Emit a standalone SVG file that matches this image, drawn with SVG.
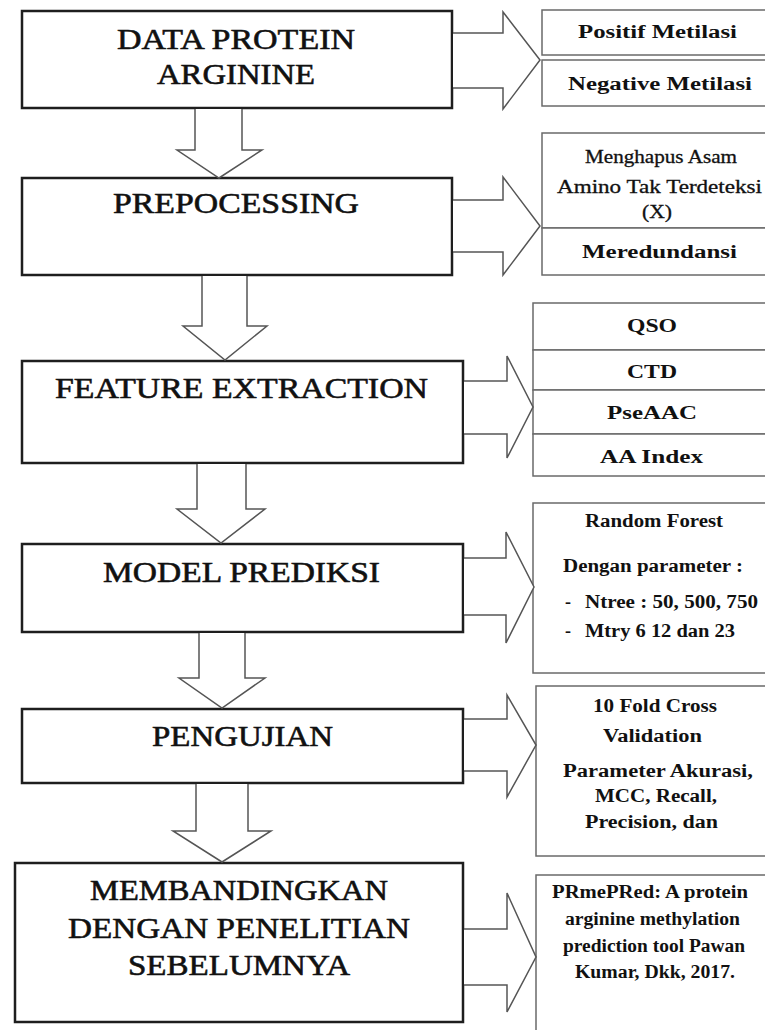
<svg xmlns="http://www.w3.org/2000/svg" width="765" height="1030" viewBox="0 0 765 1030">
<style>
.main{fill:#fff;stroke:#1e1e1e;stroke-width:2.5}
.side{fill:#fff;stroke:#6a6a6a;stroke-width:1.5}
.arr{fill:#fff;stroke:#555;stroke-width:1.5;stroke-linejoin:miter}
.mt{font-family:"Liberation Serif",serif;font-size:30px;fill:#111;stroke:#111;stroke-width:0.6}
.st{font-family:"Liberation Serif",serif;font-size:18px;font-weight:bold;fill:#111}
.sr{font-family:"Liberation Serif",serif;font-size:18px;fill:#111;stroke:#111;stroke-width:0.3}
</style>
<rect width="765" height="1030" fill="#fff"/>
<g id="node-data">
<rect class="main" x="22" y="11" width="430" height="97"/>
<text class="mt" x="117" y="49" textLength="238" lengthAdjust="spacingAndGlyphs">DATA PROTEIN</text>
<text class="mt" x="157" y="84" textLength="158" lengthAdjust="spacingAndGlyphs">ARGININE</text>
</g>
<g id="node-prepro">
<rect class="main" x="22" y="178" width="430" height="97"/>
<text class="mt" x="113" y="213" textLength="246" lengthAdjust="spacingAndGlyphs">PREPOCESSING</text>
</g>
<g id="node-feature">
<rect class="main" x="22" y="361" width="441" height="102"/>
<text class="mt" x="55" y="398" textLength="373" lengthAdjust="spacingAndGlyphs">FEATURE EXTRACTION</text>
</g>
<g id="node-model">
<rect class="main" x="22" y="544" width="441" height="88"/>
<text class="mt" x="103" y="582" textLength="277" lengthAdjust="spacingAndGlyphs">MODEL PREDIKSI</text>
</g>
<g id="node-uji">
<rect class="main" x="22" y="709" width="441" height="74"/>
<text class="mt" x="152" y="746" textLength="181" lengthAdjust="spacingAndGlyphs">PENGUJIAN</text>
</g>
<g id="node-banding">
<rect class="main" x="15" y="863" width="448" height="159"/>
<text class="mt" x="90" y="900" textLength="298" lengthAdjust="spacingAndGlyphs">MEMBANDINGKAN</text>
<text class="mt" x="68" y="938" textLength="342" lengthAdjust="spacingAndGlyphs">DENGAN PENELITIAN</text>
<text class="mt" x="128" y="975" textLength="222" lengthAdjust="spacingAndGlyphs">SEBELUMNYA</text>
</g>
<g id="side-data">
<rect class="side" x="542" y="10" width="240" height="45"/>
<rect class="side" x="542" y="60" width="240" height="46"/>
<text class="st" x="578" y="38" textLength="159" lengthAdjust="spacingAndGlyphs">Positif Metilasi</text>
<text class="st" x="568" y="90" textLength="184" lengthAdjust="spacingAndGlyphs">Negative Metilasi</text>
</g>
<g id="side-prepro">
<rect class="side" x="542" y="133" width="240" height="95"/>
<rect class="side" x="542" y="228" width="240" height="47"/>
<text class="sr" x="585" y="163" textLength="152" lengthAdjust="spacingAndGlyphs">Menghapus Asam</text>
<text class="sr" x="557" y="193" textLength="205" lengthAdjust="spacingAndGlyphs">Amino Tak Terdeteksi</text>
<text class="sr" x="642" y="218" textLength="30" lengthAdjust="spacingAndGlyphs">(X)</text>
<text class="st" x="582" y="258" textLength="155" lengthAdjust="spacingAndGlyphs">Meredundansi</text>
</g>
<g id="side-feature">
<rect class="side" x="533" y="303" width="250" height="47"/>
<rect class="side" x="533" y="350" width="250" height="40"/>
<rect class="side" x="533" y="390" width="250" height="44"/>
<rect class="side" x="533" y="434" width="250" height="42"/>
<text class="st" x="627" y="332" textLength="50" lengthAdjust="spacingAndGlyphs">QSO</text>
<text class="st" x="627" y="378" textLength="50" lengthAdjust="spacingAndGlyphs">CTD</text>
<text class="st" x="607" y="419" textLength="90" lengthAdjust="spacingAndGlyphs">PseAAC</text>
<text class="st" x="600" y="463" textLength="103" lengthAdjust="spacingAndGlyphs">AA Index</text>
</g>
<g id="side-model">
<rect class="side" x="533" y="503" width="250" height="170"/>
<text class="st" x="585" y="527" textLength="138" lengthAdjust="spacingAndGlyphs">Random Forest</text>
<text class="st" x="563" y="572" textLength="180" lengthAdjust="spacingAndGlyphs">Dengan parameter :</text>
<text class="st" x="565" y="608">-</text>
<text class="st" x="585" y="608" textLength="173" lengthAdjust="spacingAndGlyphs">Ntree : 50, 500, 750</text>
<text class="st" x="565" y="637">-</text>
<text class="st" x="585" y="637" textLength="150" lengthAdjust="spacingAndGlyphs">Mtry 6 12 dan 23</text>
</g>
<g id="side-uji">
<rect class="side" x="536" y="686" width="250" height="170"/>
<text class="st" x="593" y="712" textLength="124" lengthAdjust="spacingAndGlyphs">10 Fold Cross</text>
<text class="st" x="603" y="742" textLength="99" lengthAdjust="spacingAndGlyphs">Validation</text>
<text class="st" x="563" y="777" textLength="190" lengthAdjust="spacingAndGlyphs">Parameter Akurasi,</text>
<text class="st" x="595" y="802" textLength="122" lengthAdjust="spacingAndGlyphs">MCC, Recall,</text>
<text class="st" x="585" y="828" textLength="133" lengthAdjust="spacingAndGlyphs">Precision, dan</text>
</g>
<g id="side-banding">
<rect class="side" x="536" y="875" width="250" height="170"/>
<text class="st" x="552" y="898" textLength="196" lengthAdjust="spacingAndGlyphs">PRmePRed: A protein</text>
<text class="st" x="565" y="925" textLength="175" lengthAdjust="spacingAndGlyphs">arginine methylation</text>
<text class="st" x="563" y="952" textLength="182" lengthAdjust="spacingAndGlyphs">prediction tool Pawan</text>
<text class="st" x="575" y="978" textLength="160" lengthAdjust="spacingAndGlyphs">Kumar, Dkk, 2017.</text>
</g>
<g id="connectors">
<path class="arr" d="M195 109 V150 H177 L219 178 L262 150 H242 V109"/>
<path class="arr" d="M202 276 V326 H183 L225 360 L267 326 H247 V276"/>
<path class="arr" d="M197 464 V509 H177 L221 543 L265 509 H246 V464"/>
<path class="arr" d="M199 633 V678 H179 L222 708 L265 678 H245 V633"/>
<path class="arr" d="M196 784 V831 H173 L222 862 L271 831 H248 V784"/>
<path class="arr" d="M453 33 H503 V12 L540 60 L503 109 V88 H453"/>
<path class="arr" d="M453 200 H503 V177 L540 226 L503 275 V252 H453"/>
<path class="arr" d="M464 381 H507 V356 L533 407 L507 458 V434 H464"/>
<path class="arr" d="M464 558 H506 V532 L534 587 L506 643 V615 H464"/>
<path class="arr" d="M464 719 H507 V695 L536 745 L507 797 V771 H464"/>
<path class="arr" d="M464 929 H507 V893 L536 957 L507 1012 V985 H464"/>
</g>
</svg>
